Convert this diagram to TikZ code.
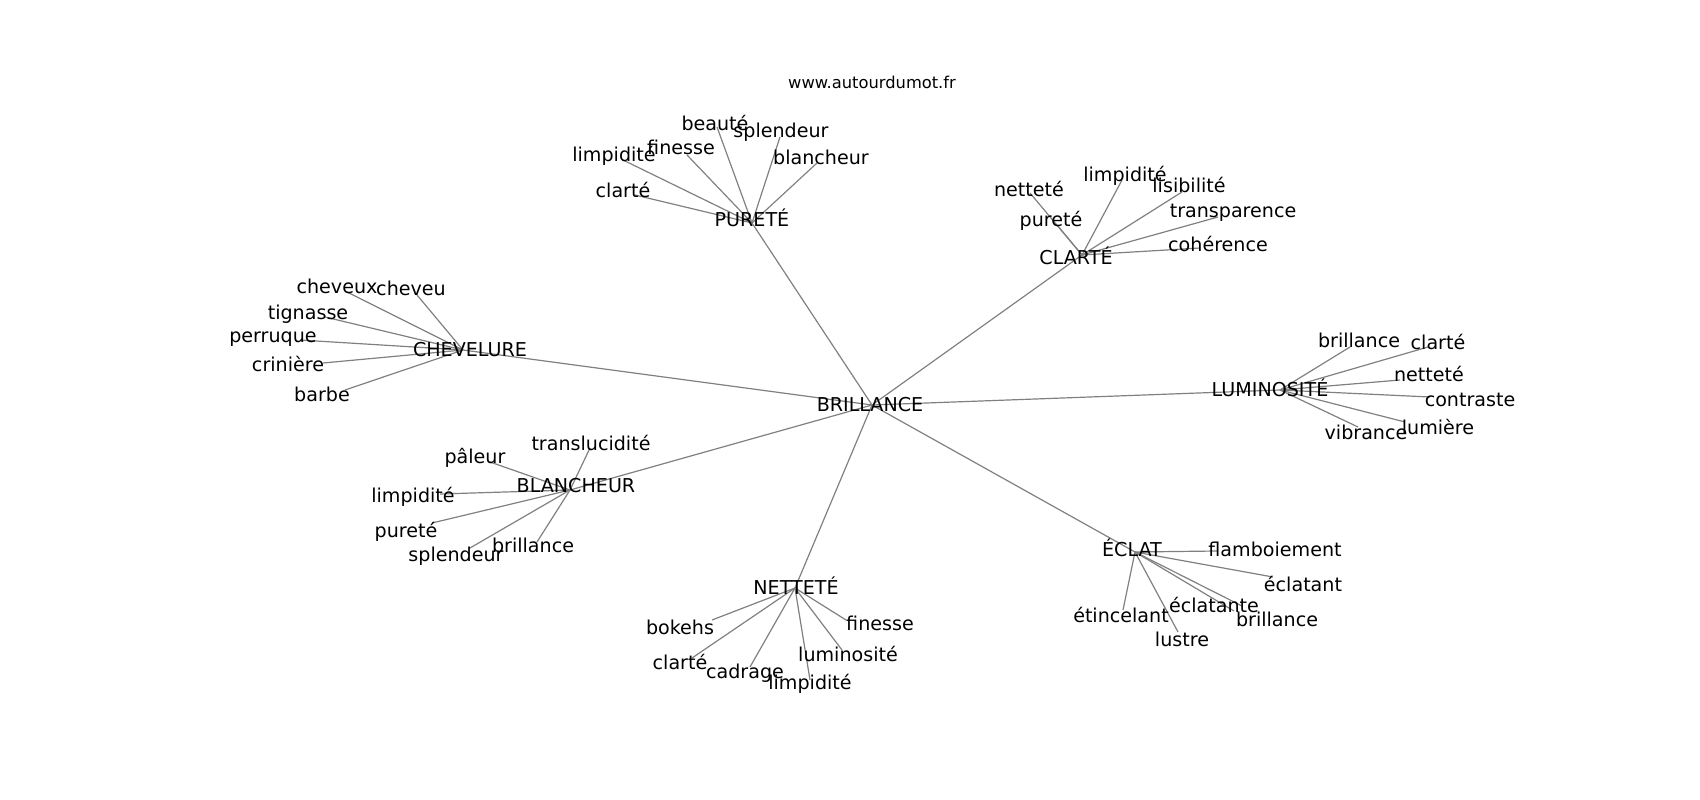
\documentclass[tikz,border=0pt]{standalone}
\usepackage{fontspec}
\setmainfont{DejaVu Sans}
\usetikzlibrary{backgrounds}
\tikzset{lbl/.style={inner sep=0pt,text height=13.9pt,text depth=0pt,font=\fontsize{19.1}{23}\selectfont},
  edge/.style={draw=black!50,line width=1.2pt}}
\newcommand{\word}[6]{\coordinate (#1) at (#2,#3); \node[lbl] (#1-t) at (#4,#5) {#6};}
\newcommand{\link}[2]{\draw[edge] (#1) -- (#2);}

\begin{document}
\begin{tikzpicture}[x=1pt,y=-1pt]
    \useasboundingbox (0,0) rectangle (1700,800);
    \node[inner sep=0pt,font=\fontsize{16.3}{20}\selectfont] (title) at (872,82) {www.autourdumot.fr};
    % centre et mots principaux
    \word{br}{872}{405}{870}{405}{BRILLANCE}
    \word{pu}{752}{223}{752}{220}{PURETÉ}    \word{cl}{1082}{255}{1076}{258}{CLARTÉ}
    \word{ch}{463}{350}{470}{350}{CHEVELURE}    \word{lu}{1280}{390}{1270}{390}{LUMINOSITÉ}
    \word{bl}{570}{490}{576}{486}{BLANCHEUR}    \word{ne}{795}{588}{796}{588}{NETTETÉ}
    \word{ec}{1135}{552}{1132}{550}{ÉCLAT}
    % pureté
    \word{pu1}{717}{127}{715}{124}{beauté}    \word{pu2}{780}{137}{781}{131}{splendeur}
    \word{pu3}{687}{155}{681}{148}{finesse}    \word{pu4}{623}{160}{614}{155}{limpidité}
    \word{pu5}{817}{163}{821}{158}{blancheur}    \word{pu6}{635}{195}{623}{191}{clarté}
    % clarté
    \word{cl1}{1030}{193}{1029}{190}{netteté}    \word{cl2}{1122}{180}{1125}{175}{limpidité}
    \word{cl3}{1182}{192}{1189}{186}{lisibilité}    \word{cl4}{1057}{225}{1051}{220}{pureté}
    \word{cl5}{1218}{217}{1233}{211}{transparence}    \word{cl6}{1200}{248}{1218}{245}{cohérence}
    % chevelure
    \word{ch1}{347}{292}{337}{287}{cheveux}    \word{ch2}{417}{295}{411}{289}{cheveu}
    \word{ch3}{325}{317}{308}{313}{tignasse}    \word{ch4}{300}{340}{273}{336}{perruque}
    \word{ch5}{323}{363}{288}{365}{crinière}    \word{ch6}{345}{390}{322}{395}{barbe}
    % luminosité
    \word{lu1}{1350}{347}{1359}{341}{brillance}    \word{lu2}{1428}{347}{1438}{343}{clarté}
    \word{lu3}{1400}{380}{1429}{375}{netteté}    \word{lu4}{1430}{397}{1470}{400}{contraste}
    \word{lu5}{1405}{422}{1438}{428}{lumière}    \word{lu6}{1358}{427}{1366}{433}{vibrance}
    % blancheur
    \word{bl1}{590}{448}{591}{444}{translucidité}    \word{bl2}{490}{462}{475}{457}{pâleur}
    \word{bl3}{440}{494}{413}{496}{limpidité}    \word{bl4}{432}{523}{406}{531}{pureté}
    \word{bl5}{470}{548}{456}{555}{splendeur}    \word{bl6}{537}{542}{533}{546}{brillance}
    % netteté
    \word{ne1}{712}{620}{680}{628}{bokehs}    \word{ne2}{692}{658}{680}{663}{clarté}
    \word{ne3}{750}{667}{745}{672}{cadrage}    \word{ne4}{810}{680}{810}{683}{limpidité}
    \word{ne5}{842}{650}{848}{655}{luminosité}    \word{ne6}{846}{620}{880}{624}{finesse}
    % éclat
    \word{ec1}{1217}{551}{1275}{550}{flamboiement}    \word{ec2}{1273}{577}{1303}{585}{éclatant}
    \word{ec3}{1242}{606}{1214}{606}{éclatante}    \word{ec4}{1234}{611}{1277}{620}{brillance}
    \word{ec5}{1123}{610}{1121}{616}{étincelant}    \word{ec6}{1178}{632}{1182}{640}{lustre}
    \begin{pgfonlayer}{background}
    \link{br}{pu}\link{br}{cl}\link{br}{ch}\link{br}{lu}
    \link{br}{bl}\link{br}{ne}\link{br}{ec}
    \link{pu}{pu1}\link{pu}{pu2}\link{pu}{pu3}\link{pu}{pu4}\link{pu}{pu5}\link{pu}{pu6}
    \link{cl}{cl1}\link{cl}{cl2}\link{cl}{cl3}\link{cl}{cl4}\link{cl}{cl5}\link{cl}{cl6}
    \link{ch}{ch1}\link{ch}{ch2}\link{ch}{ch3}\link{ch}{ch4}\link{ch}{ch5}\link{ch}{ch6}
    \link{lu}{lu1}\link{lu}{lu2}\link{lu}{lu3}\link{lu}{lu4}\link{lu}{lu5}\link{lu}{lu6}
    \link{bl}{bl1}\link{bl}{bl2}\link{bl}{bl3}\link{bl}{bl4}\link{bl}{bl5}\link{bl}{bl6}
    \link{ne}{ne1}\link{ne}{ne2}\link{ne}{ne3}\link{ne}{ne4}\link{ne}{ne5}\link{ne}{ne6}
    \link{ec}{ec1}\link{ec}{ec2}\link{ec}{ec3}\link{ec}{ec4}\link{ec}{ec5}\link{ec}{ec6}
    \end{pgfonlayer}
\end{tikzpicture}
\end{document}
